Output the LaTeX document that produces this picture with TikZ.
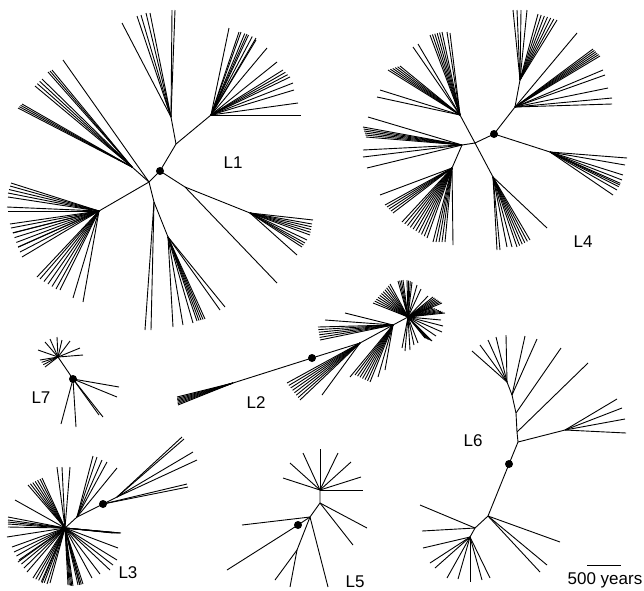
\documentclass[tikz,border=0pt]{standalone}
\usepackage{fontspec}
\setmainfont{Liberation Sans}
\usetikzlibrary{calc}

\tikzset{
  branch/.style={line width=0.9pt},
  root/.style={circle, fill, inner sep=0pt, minimum size=8pt},
  tag/.style={font=\fontsize{17}{20}\selectfont}
}
% one line from a hub to each listed tip
\newcommand\fanout[2]{\foreach \e in {#2} \draw[branch] (#1) -- \e;}
% many lines from a hub to tips spread between two points
\newcommand\densefan[4]{\foreach \t in {0,...,#4} \draw[branch] (#1) -- ($#2!{\t/#4}!#3$);}

\begin{document}
\begin{tikzpicture}[x=1pt, y=-1pt]
  \useasboundingbox (0,0) rectangle (644,590);

  % L1
  \coordinate (a1) at (160,171);
  \coordinate (a2) at (176,144);
  \coordinate (a3) at (171,117);
  \coordinate (a4) at (211,115);
  \coordinate (a5) at (149,182);
  \coordinate (a6) at (132,167);
  \coordinate (a7) at (99,211);
  \coordinate (a8) at (154,202);
  \coordinate (a9) at (168,237);
  \coordinate (a10) at (185,187);
  \coordinate (a11) at (250,213);
  \draw[branch] (a1) -- (a2) -- (a3);
  \draw[branch] (a2) -- (a4);
  \draw[branch] (a1) -- (a5) -- (a7);
  \draw[branch] (a5) -- (a6);
  \draw[branch] (a5) -- (a8) -- (a9);
  \draw[branch] (a1) -- (a10) -- (a11);
  \fanout{a3}{(122,23),(137,16),(141,15),(146,13),(150,13),(172,10),(175,10)}
  \fanout{a4}{(229,28),(239,32),(247,34),(256,40),(267,48),(277,62),(293,83),(294,90),(298,103),(301,115)}
  \densefan{a4}{(241,32)}{(256,38)}{4}
  \densefan{a4}{(283,70)}{(290,77)}{3}
  \fanout{a5}{(63,60)}
  \densefan{a6}{(18,108)}{(22,104)}{3}
  \densefan{a6}{(35,86)}{(42,79)}{3}
  \densefan{a6}{(48,72)}{(52,70)}{2}
  \fanout{a7}{(11,183),(8,197),(7,207),(8,211),(10,224),(13,233),(18,247),(22,257),(37,277),(60,290),(73,298),(83,302)}
  \densefan{a7}{(10,186)}{(8,193)}{2}
  \densefan{a7}{(11,228)}{(20,252)}{5}
  \densefan{a7}{(40,279)}{(56,289)}{4}
  \fanout{a8}{(145,330),(151,330)}
  \fanout{a9}{(173,327),(183,325),(193,323),(220,310),(225,307)}
  \densefan{a9}{(197,321)}{(205,319)}{4}
  \fanout{a10}{(277,283)}
  \fanout{a11}{(313,220),(307,240),(297,255)}
  \densefan{a11}{(312,224)}{(310,235)}{4}
  \densefan{a11}{(305,243)}{(302,247)}{2}
  \node[root] (r1) at (a1) {};
  \node[tag] (l1) at (233,163) {L1};

  % L4
  \coordinate (b1) at (494,134);
  \coordinate (b2) at (515,107);
  \coordinate (b3) at (520,80);
  \coordinate (b4) at (475,143);
  \coordinate (b5) at (460,115);
  \coordinate (b6) at (462,145);
  \coordinate (b7) at (452,168);
  \coordinate (b8) at (493,177);
  \coordinate (b9) at (550,152);
  \draw[branch] (b1) -- (b2) -- (b3);
  \draw[branch] (b1) -- (b4) -- (b5);
  \draw[branch] (b4) -- (b6) -- (b7);
  \draw[branch] (b4) -- (b8);
  \draw[branch] (b1) -- (b9);
  \fanout{b2}{(612,98),(612,104),(608,88),(605,75),(603,70),(577,33)}
  \densefan{b2}{(593,49)}{(600,56)}{5}
  \fanout{b3}{(513,10),(517,10),(521,10),(527,10)}
  \densefan{b3}{(538,14)}{(557,20)}{6}
  \fanout{b5}{(413,47),(418,44),(447,32),(450,33),(377,97),(380,90)}
  \densefan{b5}{(430,35)}{(442,32)}{5}
  \densefan{b5}{(388,70)}{(400,66)}{5}
  \fanout{b6}{(368,117),(363,150),(363,157),(367,168)}
  \densefan{b6}{(363,127)}{(366,137)}{5}
  \fanout{b7}{(453,245),(380,195)}
  \densefan{b7}{(385,205)}{(393,213)}{4}
  \densefan{b7}{(402,222)}{(427,238)}{9}
  \densefan{b7}{(433,242)}{(445,242)}{4}
  \fanout{b8}{(497,250),(500,250),(507,247),(512,247),(547,228)}
  \densefan{b8}{(517,247)}{(530,240)}{5}
  \fanout{b9}{(627,158),(625,165),(623,175),(620,185),(613,195)}
  \densefan{b9}{(622,180)}{(617,190)}{3}
  \node[root] (r4) at (b1) {};
  \node[tag] (l4) at (583,242) {L4};

  % L7
  \coordinate (c1) at (73,379);
  \coordinate (c2) at (58,357);
  \draw[branch] (c1) -- (c2);
  \fanout{c2}{(38,350),(45,342),(50,339),(57,337),(62,340),(70,341),(80,348),(83,355)}
  \densefan{c2}{(40,360)}{(45,367)}{3}
  \fanout{c1}{(119,387),(117,397),(103,417),(99,415),(76,427),(61,424)}
  \node[root] (r7) at (c1) {};
  \node[tag] (l7) at (41,398) {L7};

  % L2
  \coordinate (d1) at (312,358);
  \coordinate (d0) at (233,383);
  \coordinate (d2) at (360,343);
  \coordinate (d4) at (393,325);
  \coordinate (d5) at (408,317);
  \draw[branch] (d1) -- (d0);
  \draw[branch] (d1) -- (d2) -- (d4) -- (d5);
  \densefan{d0}{(177,397)}{(178,405)}{6}
  \fanout{d2}{(322,395)}
  \densefan{d2}{(287,383)}{(300,400)}{7}
  \fanout{d4}{(325,320),(345,313),(350,377),(378,377),(385,370)}
  \densefan{d4}{(318,327)}{(320,340)}{5}
  \densefan{d4}{(355,375)}{(370,382)}{6}
  \densefan{d5}{(373,303)}{(390,284)}{10}
  \densefan{d5}{(398,281)}{(403,280)}{3}
  \densefan{d5}{(407,280)}{(412,282)}{3}
  \fanout{d5}{(417,285),(421,289),(428,296)}
  \densefan{d5}{(433,297)}{(442,303)}{6}
  \densefan{d5}{(431,307)}{(445,313)}{7}
  \fanout{d5}{(441,320),(443,326),(442,332),(436,336)}
  \densefan{d5}{(425,338)}{(432,341)}{5}
  \fanout{d5}{(418,343),(414,345),(410,350),(405,351),(402,348)}
  \node[root] (r2) at (d1) {};
  \node[tag] (l2) at (256,403) {L2};

  % L3
  \coordinate (e1) at (103,504);
  \coordinate (e2) at (117,497);
  \coordinate (e3) at (65,528);
  \coordinate (e4) at (77,517);
  \draw[branch] (e1) -- (e2);
  \draw[branch] (e1) -- (e4) -- (e3);
  \fanout{e2}{(182,437),(184,439),(193,452),(197,460)}
  \fanout{e1}{(187,484),(188,487)}
  \fanout{e4}{(93,456),(97,457),(102,460),(107,462),(117,468)}
  \fanout{e3}{(57,467),(62,467),(70,467),(42,478),(15,500),(8,517),(8,527),(7,537),(12,547),(18,562),(27,572),(42,583),(50,583),(80,585),(92,578),(100,574),(110,570),(113,565),(117,560),(118,548),(120,533)}
  \densefan{e3}{(28,485)}{(40,479)}{5}
  \densefan{e3}{(8,520)}{(8,524)}{2}
  \densefan{e3}{(14,552)}{(24,568)}{4}
  \densefan{e3}{(33,578)}{(47,584)}{5}
  \densefan{e3}{(68,585)}{(73,586)}{4}
  \densefan{e3}{(78,585)}{(83,584)}{3}
  \densefan{e3}{(113,533)}{(121,533)}{3}
  \node[root] (r3) at (e1) {};
  \node[tag] (l3) at (128,573) {L3};

  % L5
  \coordinate (f1) at (298,525);
  \coordinate (f2) at (310,517);
  \coordinate (f3) at (297,550);
  \coordinate (f4) at (320,503);
  \coordinate (f5) at (320,490);
  \draw[branch] (f1) -- (f2) -- (f4) -- (f5);
  \draw[branch] (f2) -- (f3);
  \fanout{f1}{(227,570)}
  \fanout{f2}{(242,525),(328,587)}
  \fanout{f3}{(275,580),(290,587)}
  \fanout{f4}{(367,528),(353,545)}
  \fanout{f5}{(283,478),(290,463),(303,453),(320,449),(338,453),(351,462),(361,477),(363,490)}
  \node[root] (r5) at (f1) {};
  \node[tag] (l5) at (355,582) {L5};

  % L6
  \coordinate (g1) at (509,464);
  \coordinate (g2) at (518,442);
  \coordinate (g3) at (565,430);
  \coordinate (g4) at (517,432);
  \coordinate (g5) at (516,413);
  \coordinate (g6) at (512,395);
  \coordinate (g7) at (507,382);
  \coordinate (g8) at (488,516);
  \coordinate (g9) at (475,528);
  \coordinate (g10) at (470,537);
  \draw[branch] (g1) -- (g2) -- (g4) -- (g5) -- (g6) -- (g7);
  \draw[branch] (g2) -- (g3);
  \draw[branch] (g1) -- (g8) -- (g9) -- (g10);
  \fanout{g3}{(617,399),(622,408),(625,419),(626,433)}
  \fanout{g4}{(588,363)}
  \fanout{g5}{(561,348)}
  \fanout{g6}{(537,339),(525,336)}
  \fanout{g7}{(472,351),(480,345),(488,340),(496,337),(506,335)}
  \fanout{g8}{(560,542),(547,565),(540,572)}
  \fanout{g9}{(420,505),(422,531)}
  \fanout{g10}{(423,548),(430,563),(435,568),(447,578),(458,579),(470,582),(482,580),(490,578)}
  \node[root] (r6) at (g1) {};
  \node[tag] (l6) at (473,441) {L6};

  % scale bar
  \coordinate (s1) at (587,565);
  \coordinate (s2) at (621,565);
  \draw[branch] (s1) -- (s2);
  \node[tag] (sb) at (605,580) {500 years};
\end{tikzpicture}
\end{document}
